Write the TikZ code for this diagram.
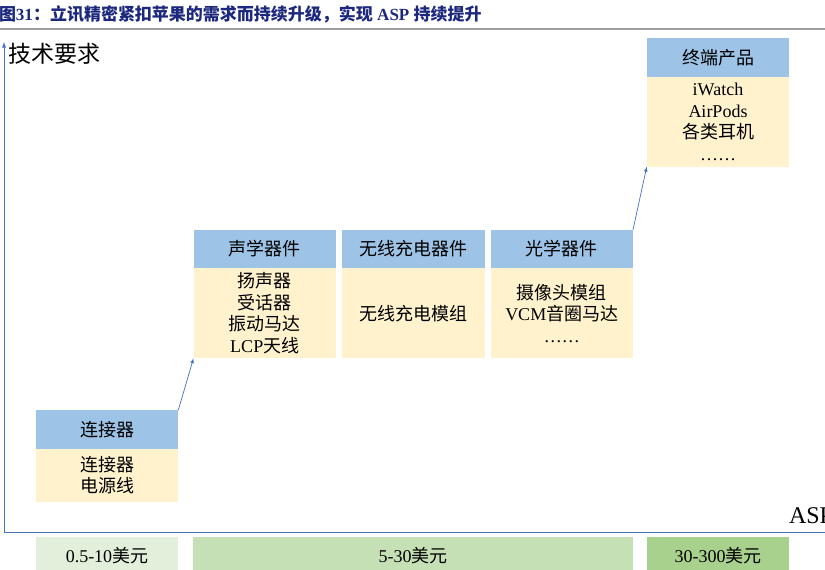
\documentclass[tikz,border=0pt]{standalone}
\usepackage{fontspec}
\setmainfont{Liberation Serif}
\newfontfamily\cjkfont{Noto Sans CJK SC}
\newcommand{\zh}[1]{{\cjkfont #1}}
\newcommand{\zhb}[1]{{\cjkfont\bfseries #1}}
\usetikzlibrary{arrows}
\usetikzlibrary{positioning}
\definecolor{headblue}{HTML}{9DC3E6}
\definecolor{bodycream}{HTML}{FFF2CC}
\definecolor{barone}{HTML}{E2EFDA}
\definecolor{bartwo}{HTML}{C5E0B4}
\definecolor{barthree}{HTML}{A9D18E}
\definecolor{axisblue}{HTML}{4472C4}
\definecolor{titleblue}{RGB}{28,40,125}
\begin{document}
\begin{tikzpicture}[x=1pt,y=-1pt,
  every node/.style={inner sep=0pt,outer sep=0pt,font=\fontsize{18}{21.5}\selectfont},
  head/.style={fill=headblue,minimum width=142.5pt,minimum height=38.5pt},
  body/.style={fill=bodycream,minimum width=142.5pt,minimum height=90pt,align=center},
  bar/.style={minimum height=38pt},
  axis/.style={draw=axisblue,line width=0.9pt},
  link/.style={draw=axisblue,line width=0.7pt,-latex}]
  \useasboundingbox (0,0) rectangle (825,570);

  % title
  \node[anchor=base west,text=titleblue,font=\fontsize{17}{17}\selectfont] (title) at (-1,20)
    {\zhb{图}\textbf{31}\zhb{：立讯精密紧扣苹果的需求而持续升级，实现} \textbf{ASP} \zhb{持续提升}};
  \draw[gray!75,line width=2pt] (0,29) -- (825,29);

  % axes
  \coordinate (o) at (4,532);
  \coordinate (ytop) at (4,42);
  \coordinate (xend) at (830,532);
  \draw[axis,-latex] (o) -- (ytop);
  \draw[axis] (o) -- (xend);
  \node[anchor=west,font=\fontsize{23}{23}\selectfont] (ylabel) at (9,54) {\zh{技术要求}};
  \node[anchor=base west,font=\fontsize{24}{24}\selectfont] (asp) at (789,523) {ASP};

  % boxes
  \node[head] (h1) at (107,429.5) {\zh{连接器}};
  \node[body,minimum height=53pt,below=0pt of h1] (b1) {\zh{连接器}\\\zh{电源线}};

  \node[head] (h2) at (264.75,249) {\zh{声学器件}};
  \node[head,right=6pt of h2] (h3) {\zh{无线充电器件}};
  \node[head,right=6pt of h3] (h4) {\zh{光学器件}};
  \node[body,below=0pt of h2] (b2) {\zh{扬声器}\\\zh{受话器}\\\zh{振动马达}\\LCP\zh{天线}};
  \node[body,below=0pt of h3] (b3) {\zh{无线充电模组}};
  \node[body,below=0pt of h4] (b4) {\zh{摄像头模组}\\VCM\zh{音圈马达}\\……};

  \node[head] (h5) at (718,57.5) {\zh{终端产品}};
  \node[body,below=0pt of h5] (b5) {iWatch\\AirPods\\\zh{各类耳机}\\……};

  \draw[link] (h1.north east) -- (b2.south west);
  \draw[link] (h4.north east) -- (b5.south west);

  % price bars
  \node[bar,fill=barone,minimum width=142.5pt] (p1) at (107,556) {0.5-10\zh{美元}};
  \node[bar,fill=bartwo,minimum width=440pt] (p2) at (413,556) {5-30\zh{美元}};
  \node[bar,fill=barthree,minimum width=142.5pt] (p3) at (718,556) {30-300\zh{美元}};
\end{tikzpicture}
\end{document}
